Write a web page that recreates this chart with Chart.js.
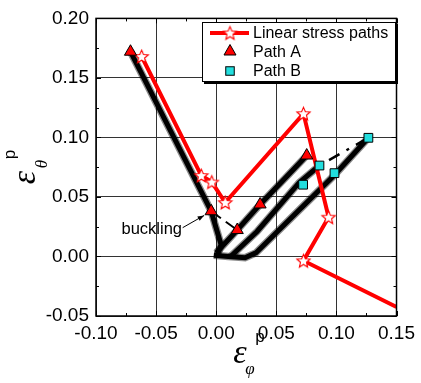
<!DOCTYPE html>
<html>
<head>
<meta charset="utf-8">
<script src="https://cdn.jsdelivr.net/npm/chart.js@4.4.0/dist/chart.umd.min.js"></script>
<style>
  html, body { margin: 0; padding: 0; background: #fff; }
  #wrap { width: 421px; height: 383px; }
</style>
</head>
<body>
<div id="wrap"><canvas id="strain-chart" width="421" height="383"></canvas></div>
<script>
// linear stress paths (red line with open stars)
const linearX = [-0.062, -0.0124, -0.0037, 0.0075, 0.0726, 0.0935, 0.0726, 0.150];
const linearY = [0.168, 0.068, 0.0625, 0.0453, 0.120, 0.033, -0.0036, -0.0425];

// Path A (red triangles)
const pathAX = [-0.0713, -0.0042, 0.0175, 0.0365, 0.0753];
const pathAY = [0.172, 0.038, 0.0222, 0.0437, 0.0848];

// Path B (cyan squares)
const pathBX = [0.1266, 0.0859, 0.0984, 0.0723];
const pathBY = [0.0997, 0.0764, 0.0700, 0.0603];

// measured traces (thick black)
const descentX = [-0.0713, -0.0042, 0.004, 0.001];
const descentY = [0.172, 0.038, 0.010, 0.001];
const loopX = [-0.002, 0.010, 0.024, 0.033, 0.060, 0.098, 0.1266];
const loopY = [0.001, 0.000, -0.001, 0.003, 0.030, 0.068, 0.0997];
const bandAX = [0.000, 0.0175, 0.0365, 0.0753];
const bandAY = [0.003, 0.0222, 0.0437, 0.0848];
const bandBX = [0.012, 0.034, 0.069, 0.0859];
const bandBY = [0.000, 0.021, 0.062, 0.0764];

// dashed jumps
const dashAX = [-0.0042, 0.0175];
const dashAY = [0.038, 0.0222];
const dashBX = [0.0859, 0.1266];
const dashBY = [0.0764, 0.0997];

// axes
const xTicks = [-0.10, -0.05, 0.00, 0.05, 0.10, 0.15];
const yTicks = [-0.05, 0.00, 0.05, 0.10, 0.15, 0.20];
const xMinor = [-0.075, -0.025, 0.025, 0.075, 0.125];
const yMinor = [-0.025, 0.025, 0.075, 0.125, 0.175];

const legendLabels = ['Linear stress paths', 'Path A', 'Path B'];

const RED = '#ff0000';
const CYAN = '#22dede';
const FONT = '"Liberation Sans", Arial, sans-serif';
const SERIF = '"Liberation Serif", "Times New Roman", serif';

function pts(xs, ys) {
    return xs.map((x, i) => ({ x: x, y: ys[i] }));
}

function makeStar(r) {
    const size = Math.ceil(r * 2 + 3);
    const c = document.createElement('canvas');
    c.width = size;
    c.height = size;
    const g = c.getContext('2d');
    g.translate(size / 2, size / 2 + 0.6);
    g.beginPath();
    for (let i = 0; i < 10; i++) {
        const rr = i % 2 === 0 ? r : r * 0.45;
        const a = -Math.PI / 2 + i * Math.PI / 5;
        g.lineTo(rr * Math.cos(a), rr * Math.sin(a));
    }
    g.closePath();
    g.fillStyle = '#fff';
    g.fill();
    g.lineWidth = 1.1;
    g.strokeStyle = RED;
    g.stroke();
    return c;
}
const starImg = makeStar(7);

function traceSets(xs, ys) {
    // black core over a soft ragged edge
    return [
        { data: pts(xs, ys), showLine: true, borderColor: '#000', borderWidth: 5, pointRadius: 0, order: 5 },
        { data: pts(xs, ys), showLine: true, borderColor: 'rgba(0,0,0,0.45)', borderWidth: 7.5, pointRadius: 0, order: 6 }
    ];
}

const decorations = {
    id: 'decorations',
    afterDraw(chart) {
        const { ctx, chartArea: a, scales } = chart;
        const x = scales.x, y = scales.y;
        ctx.save();

        // inward tick marks on all four sides
        ctx.strokeStyle = '#000';
        ctx.lineWidth = 1;
        const tick = (v, len, horiz) => {
            if (horiz) {
                const px = Math.round(x.getPixelForValue(v)) + 0.5;
                ctx.beginPath();
                ctx.moveTo(px, a.bottom); ctx.lineTo(px, a.bottom - len);
                ctx.moveTo(px, a.top); ctx.lineTo(px, a.top + len);
                ctx.stroke();
            } else {
                const py = Math.round(y.getPixelForValue(v)) + 0.5;
                ctx.beginPath();
                ctx.moveTo(a.left, py); ctx.lineTo(a.left + len, py);
                ctx.moveTo(a.right, py); ctx.lineTo(a.right - len, py);
                ctx.stroke();
            }
        };
        xTicks.forEach(v => tick(v, 5, true));
        xMinor.forEach(v => tick(v, 3, true));
        yTicks.forEach(v => tick(v, 5, false));
        yMinor.forEach(v => tick(v, 3, false));

        ctx.lineWidth = 1.5;
        ctx.strokeRect(a.left, a.top, a.width, a.height);

        // axis titles
        ctx.fillStyle = '#000';
        ctx.textBaseline = 'alphabetic';
        ctx.textAlign = 'left';
        const cx = (a.left + a.right) / 2;
        ctx.font = 'italic 34px ' + SERIF;
        ctx.fillText('\u03b5', cx - 13, 363);
        ctx.font = '17px ' + FONT;
        ctx.fillText('p', cx + 9, 342);
        ctx.font = 'italic 17px ' + SERIF;
        ctx.fillText('\u03c6', cx - 1, 374);

        ctx.save();
        ctx.translate(35, (a.top + a.bottom) / 2 + 17);
        ctx.rotate(-Math.PI / 2);
        ctx.font = 'italic 34px ' + SERIF;
        ctx.fillText('\u03b5', 0, 0);
        ctx.font = '17px ' + FONT;
        ctx.fillText('p', 25, -20);
        ctx.font = 'italic 17px ' + SERIF;
        ctx.fillText('\u03b8', 16, 12);
        ctx.restore();

        // buckling note with arrow
        ctx.font = '16.5px ' + FONT;
        ctx.fillText('buckling', x.getPixelForValue(-0.0788), y.getPixelForValue(0.0187));
        const x0 = x.getPixelForValue(-0.0279), y0 = y.getPixelForValue(0.0242);
        const x1 = x.getPixelForValue(-0.0100), y1 = y.getPixelForValue(0.0345);
        const ang = Math.atan2(y1 - y0, x1 - x0);
        ctx.lineWidth = 1;
        ctx.beginPath();
        ctx.moveTo(x0, y0); ctx.lineTo(x1, y1);
        ctx.stroke();
        ctx.beginPath();
        ctx.moveTo(x1, y1);
        ctx.lineTo(x1 - 7 * Math.cos(ang - 0.35), y1 - 7 * Math.sin(ang - 0.35));
        ctx.lineTo(x1 - 7 * Math.cos(ang + 0.35), y1 - 7 * Math.sin(ang + 0.35));
        ctx.closePath();
        ctx.fill();

        // legend box
        const lx = 202, ly = 22, lw = 194, lh = 60;
        ctx.fillStyle = '#000';
        ctx.fillRect(lx + 2, ly + 2, lw, lh);
        ctx.fillStyle = '#fff';
        ctx.fillRect(lx, ly, lw, lh);
        ctx.lineWidth = 1;
        ctx.strokeStyle = '#000';
        ctx.strokeRect(lx + 0.5, ly + 0.5, lw - 1, lh - 1);
        const sx = 230, rows = [33, 51.5, 71];
        ctx.strokeStyle = RED;
        ctx.lineWidth = 4;
        ctx.beginPath();
        ctx.moveTo(210, rows[0]); ctx.lineTo(249, rows[0]);
        ctx.stroke();
        ctx.drawImage(starImg, sx - starImg.width / 2, rows[0] - starImg.height / 2);
        // triangle
        ctx.lineWidth = 1;
        ctx.strokeStyle = '#000';
        ctx.fillStyle = RED;
        ctx.beginPath();
        ctx.moveTo(sx, rows[1] - 7);
        ctx.lineTo(sx + 6, rows[1] + 3.5);
        ctx.lineTo(sx - 6, rows[1] + 3.5);
        ctx.closePath();
        ctx.fill(); ctx.stroke();
        // square
        ctx.fillStyle = CYAN;
        ctx.fillRect(sx - 4.25, rows[2] - 4.25, 8.5, 8.5);
        ctx.strokeRect(sx - 4.25, rows[2] - 4.25, 8.5, 8.5);
        ctx.fillStyle = '#000';
        ctx.font = '16px ' + FONT;
        ctx.textBaseline = 'middle';
        legendLabels.forEach((t, i) => ctx.fillText(t, 253, rows[i] + 1));

        ctx.restore();
    }
};

Chart.defaults.color = '#000';
Chart.defaults.font.family = FONT;

const ctx = document.getElementById('strain-chart').getContext('2d');
new Chart(ctx, {
    type: 'scatter',
    data: {
        datasets: [
            {
                label: legendLabels[2],
                data: pts(pathBX, pathBY),
                pointStyle: 'rect',
                pointRadius: 6.2,
                backgroundColor: CYAN,
                borderColor: '#000',
                borderWidth: 1,
                order: 0
            },
            {
                label: legendLabels[1],
                data: pts(pathAX, pathAY),
                pointStyle: 'triangle',
                pointRadius: 7,
                backgroundColor: RED,
                borderColor: '#000',
                borderWidth: 1,
                order: 1
            },
            {
                label: legendLabels[0],
                data: pts(linearX, linearY),
                showLine: true,
                borderColor: RED,
                borderWidth: 4,
                pointStyle: starImg,
                pointRadius: c => (c.dataIndex === linearX.length - 1 ? 0 : 7),
                order: 2
            },
            {
                data: pts(dashAX, dashAY),
                showLine: true,
                borderColor: '#000',
                borderWidth: 2,
                borderDash: [12, 6],
                pointRadius: 0,
                order: 3
            },
            {
                data: pts(dashBX, dashBY),
                showLine: true,
                borderColor: '#000',
                borderWidth: 2.5,
                borderDash: [3, 8, 12, 8],
                pointRadius: 0,
                order: 3
            },
            ...traceSets(descentX, descentY),
            ...traceSets(loopX, loopY),
            ...traceSets(bandAX, bandAY),
            ...traceSets(bandBX, bandBY)
        ]
    },
    options: {
        responsive: false,
        animation: false,
        devicePixelRatio: 1,
        layout: { padding: { top: 16, right: 18, left: 0, bottom: 0 } },
        plugins: {
            legend: { display: false },
            tooltip: { enabled: false }
        },
        scales: {
            x: {
                type: 'linear',
                min: -0.10,
                max: 0.15,
                afterBuildTicks: s => { s.ticks = xTicks.map(v => ({ value: v })); },
                afterFit: s => { s.height = 67; },
                grid: { color: '#333', lineWidth: 1, drawTicks: false },
                border: { display: false },
                ticks: {
                    padding: 6,
                    maxRotation: 0,
                    font: { size: 19 },
                    callback: v => (Math.abs(v) < 1e-9 ? 0 : v).toFixed(2)
                }
            },
            y: {
                type: 'linear',
                min: -0.05,
                max: 0.20,
                afterBuildTicks: s => { s.ticks = yTicks.map(v => ({ value: v })); },
                afterFit: s => { s.width = 96; },
                grid: { color: '#333', lineWidth: 1, drawTicks: false },
                border: { display: false },
                ticks: {
                    padding: 7,
                    font: { size: 19 },
                    callback: v => (Math.abs(v) < 1e-9 ? 0 : v).toFixed(2)
                }
            }
        }
    },
    plugins: [decorations]
});
</script>
</body>
</html>
